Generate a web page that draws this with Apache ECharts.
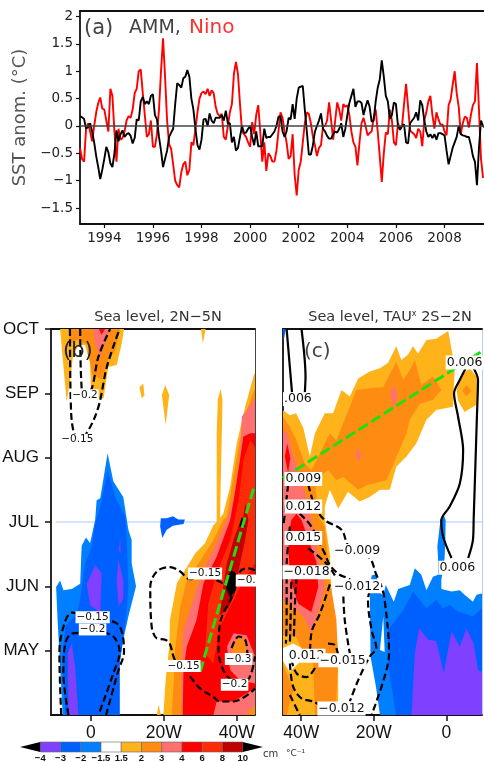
<!DOCTYPE html>
<html><head><meta charset="utf-8">
<style>html,body{margin:0;padding:0;background:#fff}#c{width:484px;height:762px}</style>
<script src="https://cdn.jsdelivr.net/npm/echarts@6/dist/echarts.min.js"></script>
</head><body><div id="c"></div>
<script>
// ---------- panel (a): monthly SST anomalies, Jan 1993 onward ----------
const startYear = 1993;
const ninoValues = [
-.4,-.6,-.65,-.05,.05,-.1,-.28,0,.25,.42,.52,.32,
.3,.1,-.1,.68,.55,-.1,-.65,-.05,-.25,-.22,-.1,.1,
.18,.15,.3,.6,.68,1.0,1.03,.6,.2,-.2,-.15,.1,
-.38,-.38,-.15,.3,1.0,1.6,.9,.1,-.33,-.42,-.7,-1.0,
-1.08,-1.12,-.85,-.7,-.65,-.9,-.8,-.3,-.35,-.05,.25,.5,
.6,.63,.58,.68,.55,.65,.6,.35,.22,.18,.22,-.2,
-.25,0,.25,.4,.95,1.17,.95,.4,-.1,-.15,-.2,-.3,
-.38,.07,-.15,.2,.38,-.1,-.65,-.3,-.82,-.5,-.55,-.65,
-.65,-.45,-.1,.25,.15,-.1,-.3,-.6,-.55,-.15,-.9,-1.27,
-.8,-.65,-.3,.05,.25,.22,.05,-.2,-.35,-.55,-.4,-.35,
0,0,.1,.43,.1,-.25,.1,.43,.3,.1,.4,.35,
.38,.2,-.1,-.3,-.38,-.72,-.3,.05,.15,0,-.17,-.13,
-.1,.15,.3,-.1,-.55,-1.02,-.5,-.12,-.15,.3,.1,-.3,
-.35,.05,-.05,0,.4,.77,.35,-.08,-.12,-.15,-.22,-.05,
-.1,-.37,.1,.25,.45,.55,.2,-.05,.25,.12,.02,.03,
-.1,-.17,.38,.48,.75,1.0,.6,.35,-.15,.05,.17,.15,
-.03,.2,.38,.45,1.15,.3,-.6,-.95];
const ammValues = [
.18,.16,.13,-.05,-.02,.05,-.1,-.3,-.55,-.75,-.97,-.8,
-.6,-.38,-.48,-.68,-.75,-.5,-.08,-.28,-.15,-.08,-.2,-.15,
-.13,-.18,-.32,-.22,.12,.1,.45,.53,.4,.45,.4,.55,
.58,.2,.12,-.2,-.45,-.75,-.6,-.45,-.2,-.12,-.05,.4,
.78,.75,.7,.87,.9,1.02,.9,.5,.3,-.05,-.35,-.43,
-.25,.12,.13,0,.23,.1,.05,.15,.15,.15,.2,.1,
.28,.05,.05,-.3,-.2,-.45,-.4,-.2,0,-.13,-.12,-.05,
0,-.2,-.35,-.1,-.37,-.37,-.37,-.05,-.22,-.2,-.2,-.15,
-.1,0,.17,.18,-.1,-.2,-.1,.15,.12,.4,.13,.5,
.7,.72,.73,.3,-.1,-.52,-.52,-.35,-.1,0,.1,.23,
-.05,-.1,-.18,-.23,-.23,-.15,-.1,-.12,-.05,.05,-.2,-.05,
.2,.42,.55,.68,.35,.45,.45,.42,.2,.35,.47,.35,
.08,.1,.45,.7,.85,1.2,.9,.55,.45,.13,.2,.43,
.4,0,-.07,0,.03,-.3,-.32,.05,.1,.15,.25,.1,
.47,.38,.1,-.1,-.2,-.15,-.22,-.15,-.25,-.13,-.13,-.15,
-.17,-.45,-.7,-.55,-.4,-.3,-.2,0,-.15,-.17,-.18,-.2,
-.2,-.35,-.55,-.65,-1.08,-.4,.1,0,-.03,-.03];
const yearTicks = [1994,1996,1998,2000,2002,2004,2006,2008];
const anomalyTicks = [-1.5,-1,-.5,0,.5,1,1.5,2];

// ---------- shared scale ----------
const monthTicks = [[5,'MAY'],[6,'JUN'],[7,'JUL'],[8,'AUG'],[9,'SEP'],[10,'OCT']];
const colorbarLabels = ['−4','−3','−2','−1.5','1.5','2','3','4','6','8','10'];

// ---------- panel (b): [level index, [[deg W, month], ...]] ----------
const bPolys = [
[4,[[-8.4,10],[-7.9,9.67],[-6.6,8.87],[-5.5,9.26],[-4.9,9.57],[-3.4,9.75],[-1.6,9.75],[-.2,9.47],[.1,8.95],[3.5,8.92],[4.8,9.41],[7.1,9.44],[8.5,9.78],[9.1,10]]],
[5,[[-6.1,10],[-5.7,9.78],[-3.4,9.83],[-.9,9.75],[.3,9.31],[3,9.21],[4.8,9.52],[6.7,9.67],[8,10]]],
[6,[[.7,10],[1.2,9.78],[2.6,9.57],[3.9,9.78],[5.3,10]]],
[7,[[2.2,10],[3,9.91],[3.9,10]]],
[4,[[30.2,10],[30.7,9.78],[31.5,10]]],
[4,[[13.3,9.1],[14,8.92],[14.7,8.97],[14.4,9.15]]],
[4,[[19.5,8.97],[20.4,9.13],[21.5,8.97],[20.5,8.51]]],
[4,[[35.6,9.07],[36.1,8.9],[35.4,7.03],[34.5,7],[34.5,8.38],[34.8,8.9]]],
[4,[[18.1,4],[18.6,4.16],[19.2,4]]],
[4,[[19.9,4],[20.5,4.54],[21.5,5.06],[21.7,5.48],[23.6,6.05],[25.8,6.25],[28.6,6.51],[31.3,6.67],[33.6,6.95],[34.5,7],[36.3,7.13],[38.2,7.55],[40,8.22],[42.3,8.79],[44.8,9.31],[45,9.3],[45,4]]],
[5,[[22.2,4],[22.8,4.6],[23.1,5.01],[24.5,5.68],[26.3,6.09],[30,6.4],[33.6,6.72],[36.3,7.03],[37.3,7.08],[38.6,7.55],[40.5,8.17],[41.8,8.59],[44.8,9.05],[45,9.05],[45,4]]],
[6,[[24.9,4],[24.9,4.75],[25.4,5.32],[29,5.96],[31.8,6.36],[34.5,6.67],[37.3,7.03],[39.1,7.39],[40.9,8.02],[41.4,8.64],[44.8,8.9],[45,8.9],[45,4]]],
[7,[[25.2,4],[25.4,4.7],[26.3,5.06],[29,5.48],[30.9,6.05],[34.5,6.46],[38.2,7.03],[39.5,7.45],[40.9,7.97],[41.8,8.33],[43.7,8.38],[44.8,8.38],[45,8.38],[45,4.41],[39.1,4.21],[34.5,4.21],[33.6,4]]],
[8,[[31.3,4.96],[32.2,5.73],[34.5,6.2],[38.2,6.72],[40.5,7.34],[41.8,7.96],[43.7,8.27],[45,8.17],[45,6.36],[40.9,5.99],[35.4,5.37],[33.6,4.8]]],
[9,[[43.2,7.03],[42.3,6.72],[40.5,6.25],[39.5,5.89],[37.7,5.66],[35.4,5.55],[36.3,5.99],[37.3,6.36],[39.1,6.72],[41.1,7.03],[41.8,7.08],[42.3,7.29]]],
[10,[[37.3,6.15],[38.6,6.25],[39.8,6.2],[39.5,5.94],[38.2,5.82],[37.1,5.96]]],
[10,[[40.7,6.93],[41.4,7.08],[42.3,6.93]]],
[6,[[37.3,5.06],[39.1,5.27],[42.7,5.24],[45,4.91],[45,4.49],[40.9,4.54],[38.2,4.7]]],
[5,[[38.6,5.04],[40.5,5.22],[42.3,5.17],[42.9,4.96],[40.9,4.8],[39.1,4.85]]],
[5,[[42.3,4],[45,4.16],[45,4]]],
[2,[[-7.7,4],[-8.6,4.96],[-9.1,5.48],[-9.5,5.99],[-8.4,6.09],[-7.5,5.94],[-5.2,5.96],[-2.9,6.04],[-2.5,6.63],[-1.3,6.76],[-.2,6.67],[1.2,7.03],[1.6,7.34],[2.6,7.37],[4.6,8.07],[6.2,7.63],[8.9,7.39],[10.3,6.88],[11.2,6.72],[11.2,6.36],[12.4,6],[10.3,5.53],[8.9,5.17],[7.9,4.8],[7.9,4]]],
[1,[[-7,4],[-7.5,4.6],[-7.7,4.96],[-7,5.37],[-3.8,5.58],[-2.9,5.81],[-1.6,6.35],[.3,6.62],[1.2,6.98],[2.6,7.24],[4.6,7.81],[6.7,7.39],[9.4,7.08],[9.9,6.72],[10.3,5.99],[9.7,5.53],[7.9,4.8],[7.9,4]]],
[0,[[-6.1,4],[-6.3,4.96],[-5.2,5.11],[-4.3,4.75],[-3.4,4]]],
[0,[[-1.1,6.04],[1.2,6.33],[3,6.2],[2.6,5.58],[-.2,5.71]]],
[0,[[7.1,6.1],[7.6,6.41],[8.9,6.1],[8.9,5.79],[7.6,5.7]]],
[0,[[7.6,6.56],[8.1,6.75],[8.2,6.51]]],
[1,[[19.2,7.06],[20.8,7.06],[22.5,7.09],[24,7.04],[25.8,7.04],[25.4,6.97],[22.5,6.94],[20.8,6.88],[19.6,6.75],[19,6.93]]]
];
const bContours = [
[[-5.7,10],[-5.5,8.9],[-4.7,8.4],[-2.9,8.3],[-.9,8.4],[2.1,8.79],[4.4,9.41],[7.9,10]],
[[-2.9,10],[-2.5,9.08],[-1.3,8.97],[.3,9.08],[2.1,9.57],[5.3,10]],
[[-8.1,4],[-8.6,4.96],[-7.5,5.37],[-5.2,5.59],[.5,5.52],[4.8,5.48],[8,5.37],[9.1,4.98],[7.6,4.7],[4.2,4]],
[[-6.1,4],[-7.5,4.65],[-7,5.11],[-4.9,5.27],[2.6,5.28],[6.2,5.22],[7.9,4.98],[6.2,4.65],[2.1,4]],
[[25.4,4.76],[23.1,4.85],[21.7,5.1],[20.4,5.17],[18.1,5.19],[16.7,5.37],[16.3,5.99],[18.1,6.23],[21.7,6.3],[24.5,6.23],[27.2,6.11],[31.3,6.17],[35.4,6.07],[36.8,6.02]],
[[27.2,4.6],[30,4.41],[33.6,4.28],[35.4,4.21],[39.1,4.21],[45,4.41]],
[[45,6.25],[43.2,6.28],[40.9,6.23],[39.1,5.89],[35.4,5.42],[35,5.01],[36.3,4.7],[39.1,4.54],[42.7,4.54],[45,4.91]],
[[38.6,5.04],[40.5,5.22],[42.3,5.17],[42.9,4.96]]
];
const bGreen = [[29.95,4.67],[44.6,7.52]];
const bLabels = [
[-1.6,8.97,'−0.2'],[-3.7,8.28,'−0.15'],[.5,5.52,'−0.15'],[.5,5.33,'−0.2'],[31.3,6.2,'−0.15'],
[42.6,6.09,'−0.'],[40.5,4.87,'−0.3'],[25.4,4.76,'−0.15'],[39.4,4.47,'−0.2']];

// ---------- panel (c) ----------
const cPolys = [
[4,[[45.1,8.74],[43.1,8.66],[41.4,8.69],[39.4,8.46],[37.6,8.02],[36.2,8.38],[33.5,8.69],[31.2,8.69],[28.9,9.05],[26.6,8.95],[24.3,9.23],[21.1,9.34],[18.3,9.39],[16.1,9.47],[13.8,9.73],[12.4,9.52],[10.6,9.6],[9.2,9.73],[7.8,9.62],[5.5,9.83],[2.8,9.85],[-.5,9.97],[-2.3,9.41],[-1.8,8.79],[2.8,8.74],[5.5,8.59],[8.3,8.22],[11,8.02],[13.8,7.86],[15.6,7.5],[18.3,7.5],[21.1,7.39],[23.9,7.32],[27.1,7.47],[29.8,7.21],[32.1,7.5],[33.5,7.24],[33.5,7.03],[32.1,6.51],[31.7,5.99],[29.8,4.96],[29.8,4],[45.1,4]]],
[4,[[-2.8,9.05],[-4.1,9.29],[-6.4,9.39],[-8.3,9.26],[-8.7,8.84],[-5,8.71],[-3.2,8.89]]],
[5,[[-4.4,9.04],[-5.5,9.13],[-6.9,9.04],[-5.5,8.95]]],
[5,[[45.1,8.64],[43.1,8.48],[41.3,8.27],[39,7.91],[37.2,7.81],[36.2,7.91],[32.1,8.38],[30.3,8.27],[26.6,8.79],[24.8,9.05],[21.1,9.08],[17.4,9.1],[13.8,9.49],[11.9,9.21],[10.1,9.36],[8.7,9.52],[6.9,9.13],[3.7,9.26],[1.4,9.05],[3.7,8.9],[7.3,8.84],[10.1,8.59],[11,8.38],[13.3,8.07],[16.5,7.65],[22,7.57],[24.3,7.5],[28.4,7.7],[30.3,7.65],[32.6,7.81],[34.9,7.7],[36.2,7.65],[35.3,7.08],[33.5,6.93],[32.1,6.1],[30.3,5.48],[29.8,4.85],[30.3,4.28],[30.3,4],[36.2,4],[36.7,4.8],[39,4.8],[41.3,4.54],[42.7,4.28],[44,4],[45.1,4]]],
[6,[[15.1,9.08],[14.2,9.1],[13.5,8.95],[14.5,8.79],[15.4,8.95]]],
[6,[[25,8.04],[24.3,8.15],[23.4,8.02],[24.3,7.94]]],
[6,[[45.1,8.43],[43.9,8.4],[42.7,8.12],[40.4,7.7],[38.5,7.39],[37.2,7.03],[34.9,6.35],[33.5,5.99],[34.9,5.68],[37.2,5.27],[39.4,5.53],[43.1,5.73],[45.1,5.79]]],
[7,[[44.5,8.02],[43.8,8.22],[43,7.99],[43.6,7.76]]],
[7,[[42.7,7.03],[41.3,7.13],[39.9,7.03],[35.8,6.38],[35.3,5.99],[37.2,5.6],[40.8,5.73],[43.1,6.15],[43.6,6.72]]],
[4,[[45.1,5.24],[41.7,5.24],[39.4,4.98],[36.7,4.8],[37.1,4.6],[36.2,4],[39.9,4],[41.7,4.34],[43.6,4.6],[45.1,4.8]]],
[3,[[45.1,5.04],[42.2,5.11],[39.9,5.04],[40.8,4.8],[43.1,4.67],[45.1,4.85]]],
[2,[[21.1,5.94],[20.6,6.17],[19.3,6.19],[18.5,5.91],[17.4,5.86],[16.7,6.02],[14.5,5.76],[13.3,5.96],[10.1,6.02],[8.7,6.28],[6.9,6.18],[5.5,5.94],[3.7,6.15],[2.3,6.18],[2.3,6.44],[2.5,6.62],[1.65,7.03],[.9,7.13],[.2,7.03],[.3,6.72],[.5,6.44],[1.4,6.1],[1.4,5.96],[-1.4,5.92],[-3.7,5.94],[-4.6,5.89],[-7.3,5.76],[-8.3,5.87],[-9.8,5.89],[-9.8,4],[18.3,4],[19.4,4.44],[20.9,4.91]]],
[1,[[13.9,4],[16.1,4.8],[16.1,5.32],[11.9,5.63],[9.2,5.92],[5.5,5.66],[2.8,5.79],[.9,5.66],[-.9,5.71],[-3.2,5.61],[-7.3,5.53],[-9.8,5.66],[-9.8,4]]],
[0,[[9.6,4],[8.7,4.96],[7.5,5.35],[5,5.17],[2.8,5.15],[.7,4.65],[-1.4,5.3],[-3.7,5.06],[-5.5,5.35],[-7.5,5.11],[-8.7,4.7],[-9.8,4.67],[-9.8,4]]],
[1,[[45.1,10],[44.2,10],[44.8,9.83]]],
[3,[[17.4,5.53],[17,4.98],[18.3,5.01]]]
];
const cSolid = [
[[44,10],[42.5,9]],
[[39.9,10],[38.8,9.26],[39,9]],
[[-5.5,9.41],[-3.7,9.21],[-2.1,9],[-3.2,8.64],[-4.6,8.12],[-3.7,7.6],[-.9,7.24],[1.4,7.03],[.9,6.77],[-1.4,6.44]],
[[-7.3,9.41],[-8.7,9.21],[-8.4,8.64],[-7.5,7.03],[-7.3,6.72],[-6,6.44]]
];
const cDashed = [
[[43.6,7.58],[44.5,7.13],[44.9,6.93]],
[[21.1,5.94],[21.6,5.79],[20.6,5.32],[19.3,5.04],[21.1,4.91],[24.3,4.54],[26.6,4.21]],
[[38,7.58],[36.2,7.24],[33.5,7.03],[28.9,6.88],[27.1,6.64],[24.6,6.55],[21.1,6.44],[19.3,6.18],[17.9,6],[17,5.79],[15.8,4.96],[17,4.6],[20.6,4]],
[[40.4,7.13],[37.2,6.93],[33.5,6.51],[32.1,6.33],[29.4,6.18],[26.6,6.1],[28.4,5.99],[28,5.48],[26.6,4.96]],
[[32.1,6.03],[34.8,5.58],[37.2,5.27],[37.6,4.85]],
[[32.6,5.11],[30.8,5.09],[29.8,4.93]],
[[36.2,4.73],[38.5,4.59],[41.3,4.65],[43.1,4.96]],
[[43.1,4.8],[42.2,4.44],[39.9,4.26],[36.7,4.21],[34,4.13]],
[[43.1,4.31],[40.4,4]],
[[41.3,6.15],[41.7,5.73],[42,5.22]],
[[42.7,6.07],[42.9,5.53],[43.1,5.11]],
[[44,6.15],[44,5.48],[44.2,5.11]],
[[43.1,6.93],[43.6,6.66],[44,6.35]],
[[38,6.59],[33.5,6.38],[30.7,6.17]]
];
const cGreen = [[45.1,7.68],[-9.4,9.64]];
const cLabels = [
[-5,9.48,'0.006'],[40.9,8.91,'.006'],[39.4,7.67,'0.009'],[39.4,7.24,'0.012'],[39.4,6.75,'0.015'],
[38.5,6.22,'−0.018'],[24.6,6,'−0.012'],[24.6,6.55,'−0.009'],[28.9,4.1,'−0.012'],[38.5,4.92,'0.012'],
[28.6,4.85,'−0.015'],[-3,6.29,'0.006']];

// ---------- styling ----------
const levelColors = ['#8040ff','#0060ff','#0080ff','#ffffff','#ffb31a','#ff8c12','#ff7070','#ff0000','#ff2a08','#c00000','#000000'];
const sans = '"DejaVu Sans",sans-serif';
const tall = '"Liberation Sans",sans-serif';

const polySeries = (polys, idx) => ({
  type:'custom', xAxisIndex:idx, yAxisIndex:idx, z:3, clip:true, silent:true,
  data:polys.map((p,i)=>[i]),
  renderItem:(params,api)=>{
    const p = polys[params.dataIndex];
    return {type:'polygon',shape:{points:p[1].map(q=>api.coord(q))},style:{fill:levelColors[p[0]],stroke:null}};
  }
});
const lineSeries = (pts, idx, color, width, dash, smooth, z) => ({
  type:'line', xAxisIndex:idx, yAxisIndex:idx, data:pts, showSymbol:false, symbol:'none', silent:true, z:z||5,
  smooth:smooth||false, lineStyle:{color,width,type:dash||'solid',cap:'butt'}
});
const labelSeries = (labels, idx, size) => ({
  type:'scatter', xAxisIndex:idx, yAxisIndex:idx, z:8, silent:true, symbolSize:1, clip:false,
  itemStyle:{color:'rgba(0,0,0,0)',opacity:1}, data:labels,
  label:{show:true,position:'inside',formatter:p=>p.data[2],color:'#111',fontFamily:sans,fontSize:size,
         backgroundColor:'#fff',padding:[1,1,0,1]}
});

const axisBase = {type:'value',splitLine:{show:false}};
const frame = c => ({show:true,onZero:false,lineStyle:{color:c||'#111',width:1.8}});
const lonAxis = (idx,min,max,inverse,ticks,names) => ({...axisBase,gridIndex:idx,min,max,inverse,position:'bottom',
  axisLine:frame(),axisTick:{show:true,length:6,customValues:ticks,lineStyle:{color:'#111',width:1.5}},
  axisLabel:{show:true,customValues:ticks,margin:9,color:'#111',fontFamily:tall,fontSize:17.5,formatter:v=>names[ticks.indexOf(v)]}});
const topEdge = (idx,min,max,c) => ({...axisBase,gridIndex:idx,min,max,position:'top',axisLine:frame(c),axisTick:{show:false},axisLabel:{show:false}});
const monthAxis = idx => {const t=monthTicks.map(m=>m[0]);return {...axisBase,gridIndex:idx,min:4,max:10,position:'left',
  axisLine:frame(),axisTick:{show:idx===1,length:6,customValues:t,lineStyle:{color:'#111',width:1.5}},
  axisLabel:{show:idx===1,customValues:t,margin:12,color:'#111',fontFamily:tall,fontSize:17,formatter:v=>monthTicks[t.indexOf(v)][1]}};};
const rightEdge = (idx,c,w) => ({...axisBase,gridIndex:idx,min:4,max:10,position:'right',axisLine:{show:true,onZero:false,lineStyle:{color:c,width:w}},axisTick:{show:false},axisLabel:{show:false}});

const option = {
  animation:false, backgroundColor:'#fff',
  grid:[
    {left:80,top:11,width:410,height:213,outerBoundsMode:'none'},
    {left:51,top:329,width:204,height:386,outerBoundsMode:'none'},
    {left:283,top:329,width:199,height:386,outerBoundsMode:'none'},
    {left:20,top:742,width:243,height:10,outerBoundsMode:'none'}
  ],
  title:[
    {text:'Sea level, 2N−5N',left:153,top:305,textAlign:'center',textStyle:{fontFamily:sans,fontWeight:'normal',fontSize:14.5,color:'#333'}},
    {text:'Sea level, TAU{s|x} 2S−2N',left:385,top:305,textAlign:'center',textStyle:{fontFamily:sans,fontWeight:'normal',fontSize:14.5,color:'#333',
      rich:{s:{fontFamily:sans,fontSize:8,color:'#333',verticalAlign:'top',lineHeight:14}}}}
  ],
  xAxis:[
    {...axisBase,gridIndex:0,min:startYear,max:2009.87,position:'bottom',axisLine:frame(),
     axisTick:{show:true,length:4,customValues:yearTicks,lineStyle:{color:'#111',width:1.2}},
     axisLabel:{show:true,customValues:yearTicks,margin:7,color:'#222',fontFamily:sans,fontSize:13.5,formatter:v=>String(v)}},
    topEdge(0,startYear,2009.87),
    lonAxis(1,-10.9,45,false,[0,20,40],['0','20W','40W']),
    topEdge(1,-10.9,45),
    lonAxis(2,-9.8,45,true,[40,20,0],['40W','20W','0']),
    topEdge(2,-9.8,45),
    {...axisBase,gridIndex:3,min:-1,max:11,position:'bottom',axisLine:{show:false},axisTick:{show:false},
     axisLabel:{show:true,customValues:colorbarLabels.map((_,i)=>i),margin:1,color:'#111',fontFamily:'"Liberation Sans",sans-serif',fontWeight:'bold',fontSize:9.5,
       formatter:v=>colorbarLabels[v]}}
  ],
  yAxis:[
    {...axisBase,gridIndex:0,min:-1.79,max:2.1,position:'left',axisLine:frame(),
     axisTick:{show:true,length:4,customValues:anomalyTicks,lineStyle:{color:'#111',width:1.2}},
     axisLabel:{show:true,customValues:anomalyTicks,margin:7,color:'#222',fontFamily:sans,fontSize:13.5,formatter:v=>String(v).replace('-','−')},
     name:'SST anom. (°C)',nameLocation:'middle',nameRotate:90,nameGap:47,nameTextStyle:{fontFamily:sans,fontSize:18,color:'#555'}},
    monthAxis(1),
    rightEdge(1,'#444',1),
    monthAxis(2),
    rightEdge(2,'#b5ccff',1),
    {...axisBase,gridIndex:3,min:0,max:1,axisLine:{show:false},axisTick:{show:false},axisLabel:{show:false}}
  ],
  series:[]
};
// axis index mapping: x: 0 a,1 a-top,2 b,3 b-top,4 c,5 c-top,6 bar; y: 0 a,1 b,2 b-right,3 c,4 c-right,5 bar
const xI={a:0,b:2,c:4,bar:6}, yI={a:0,b:1,c:3,bar:5};
const bind = (s,k) => Object.assign(s,{xAxisIndex:xI[k],yAxisIndex:yI[k]});

const yearsOf = arr => arr.map((v,i)=>[startYear+i/12,v]);
const S = option.series;
S.push(bind(lineSeries(yearsOf(ninoValues),0,'#ff0000',1.9,null,false,4),'a'));
S.push(bind(lineSeries(yearsOf(ammValues),0,'#000000',1.9,null,false,5),'a'));
S.push(bind(lineSeries([[startYear,0],[2009.87,0]],0,'#444444',1.3,null,false,6),'a'));

S.push(bind(lineSeries([[-9.5,7],[45,7]],0,'#a9c8ff',1,null,false,2),'b'));
S.push(bind(polySeries(bPolys,0),'b'));
bContours.forEach(c=>S.push(bind(lineSeries(c,0,'#000',2.2,[7,3.5],0.35,5),'b')));
S.push(bind(lineSeries(bGreen,0,'#22dd11',3,[11,4],false,6),'b'));
S.push(bind(labelSeries(bLabels,0,10.5),'b'));

S.push(bind(lineSeries([[45,7],[-9.8,7]],0,'#a9c8ff',1,null,false,2),'c'));
S.push(bind(polySeries(cPolys,0),'c'));
cSolid.forEach(c=>S.push(bind(lineSeries(c,0,'#000',2.2,null,0.3,5),'c')));
cDashed.forEach(c=>S.push(bind(lineSeries(c,0,'#000',2.2,[7,3.5],0.35,5),'c')));
S.push(bind(lineSeries(cGreen,0,'#22dd11',3,[11,4],false,6),'c'));
S.push(bind(labelSeries(cLabels,0,12.5),'c'));

// colour bar: ten boxes plus two end triangles
S.push(bind({type:'custom',z:3,silent:true,clip:false,data:levelColors.slice(0,10).map((c,i)=>[i]),
  renderItem:(params,api)=>{
    const i=params.dataIndex,a=api.coord([i,1]),b=api.coord([i+1,0]);
    return {type:'rect',shape:{x:a[0],y:a[1],width:b[0]-a[0],height:b[1]-a[1]},style:{fill:levelColors[i],stroke:'#666',lineWidth:.6}};
  }},'bar'));
S.push(bind({type:'custom',z:3,silent:true,clip:false,data:[[-1],[11]],
  renderItem:(params,api)=>{
    const tip=api.value(0),edge=tip<0?0:10;
    return {type:'polygon',shape:{points:[api.coord([tip,.5]),api.coord([edge,1]),api.coord([edge,0])]},style:{fill:'#000'}};
  }},'bar'));

option.graphic=[
  {type:'text',left:84,top:18,style:{text:'(a)',fontFamily:sans,fontSize:21,fill:'#444'}},
  {type:'text',left:129,top:19,style:{text:'AMM,',fontFamily:sans,fontSize:19,fill:'#444'}},
  {type:'text',left:189,top:18,style:{text:'Nino',fontFamily:sans,fontSize:20,fill:'#ff3030'}},
  {type:'text',left:63,top:341,z:20,style:{text:'(b)',fontFamily:sans,fontSize:21,fill:'#222'}},
  {type:'text',left:304,top:342,z:20,style:{text:'(c)',fontFamily:sans,fontSize:20,fill:'#444'}},
  {type:'text',left:263,top:749,style:{text:'cm',fontFamily:sans,fontSize:10,fill:'#333'}},
  {type:'text',left:286,top:749,style:{text:'°C⁻¹',fontFamily:sans,fontSize:9,fill:'#333'}}
];

echarts.init(document.getElementById('c'),null,{renderer:'canvas'}).setOption(option);
</script></body></html>
